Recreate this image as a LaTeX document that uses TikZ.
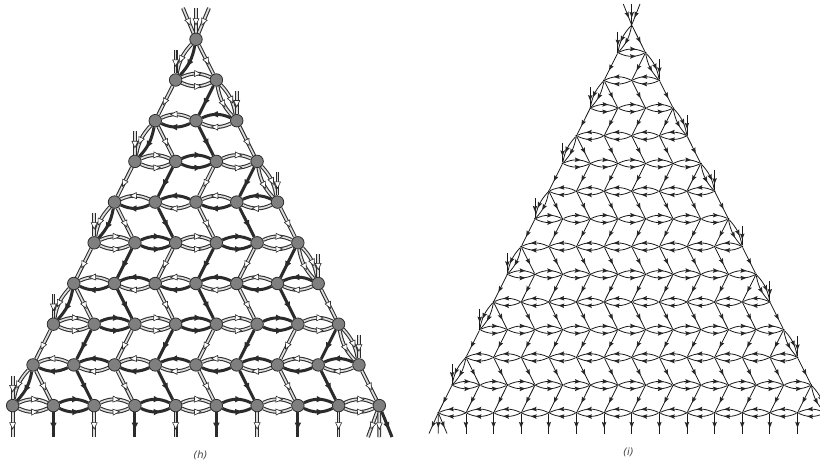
\documentclass[tikz,border=0pt]{standalone}
\usepackage{fontspec}
\setmainfont{DejaVu Sans}
\usetikzlibrary{decorations.markings,backgrounds}
\definecolor{edgeDk}{HTML}{2B2B2B}
\definecolor{edgeLt}{HTML}{DDDDDD}
\definecolor{nodeGr}{HTML}{7F7F7F}
\definecolor{capGr}{HTML}{444444}
\tikzset{
  x=1pt,y=1pt,
  markLit/.style={postaction={decorate,decoration={markings,mark=at position .55 with {\path[draw=edgeDk,fill=white,line width=.6pt] (3.4,0)--(-3,3)--(-3,-3)--cycle;}}}},
  markDark/.style={postaction={decorate,decoration={markings,mark=at position .55 with {\path[fill=edgeDk] (3.4,0)--(-3,3.2)--(-3,-3.2)--cycle;}}}},
  markThin/.style={postaction={decorate,decoration={markings,mark=at position .55 with {\path[fill=black!85] (3,0)--(-3,2.3)--(-2,0)--(-3,-2.3)--cycle;}}}},
  lkind0/.style={draw=edgeLt,line width=1.7pt,preaction={draw=edgeDk,line width=3.8pt},markLit},
  lkind1/.style={draw=edgeDk,line width=3pt,markDark},
  dkind0/.style={draw=black!90,line width=.8pt,markThin},
  dkind1/.style={draw=black!90,line width=.8pt,markThin},
  lnode/.style={circle,draw=edgeDk,fill=nodeGr,line width=.8pt,inner sep=0pt,minimum size=12.5pt},
  dnode/.style={circle,fill=black,inner sep=0pt,minimum size=2pt},
  capt/.style={text=capGr,inner sep=0pt,font=\fontsize{10}{12}\selectfont\itshape}
}
% #1 prefix, #2 last row, #3 length of the side stubs
\newcommand\latticeEdges[3]{%
  \foreach \r in {0,...,#2}{%
    \pgfmathtruncatemacro\rp{\r-1}%
    \pgfmathtruncatemacro\rn{\r+1}%
    \ifnum\r>0
      \foreach \i in {0,...,\rp}{%
        \pgfmathtruncatemacro\ii{\i+1}%
        \pgfmathtruncatemacro\ka{mod(\i,2)}%
        \pgfmathtruncatemacro\kb{mod(\i+1,2)}%
        \ifodd\r
          \draw[#1kind\ka] (#1-\r-\i) to[bend left=25] (#1-\r-\ii);
          \draw[#1kind\ka] (#1-\r-\i) to[bend right=25] (#1-\r-\ii);
        \else
          \draw[#1kind\ka] (#1-\r-\ii) to[bend right=25] (#1-\r-\i);
          \draw[#1kind\kb] (#1-\r-\ii) to[bend left=25] (#1-\r-\i);
        \fi
      }%
    \fi
    \ifnum\r<#2
      \foreach \i in {0,...,\r}{%
        \pgfmathtruncatemacro\ii{\i+1}%
        \pgfmathtruncatemacro\ka{mod(\i,2)}%
        \ifodd\r
          \draw[#1kind\ka] (#1-\r-\i) -- (#1-\rn-\i);
        \else
          \draw[#1kind\ka] (#1-\r-\i) -- (#1-\rn-\ii);
        \fi
      }%
      \ifodd\r
        \draw[#1kind0] (#1-\r-\r) to[bend left=16] (#1-\rn-\rn);
        \draw[#1kind0] (#1-\r-\r) to[bend right=16] (#1-\rn-\rn);
      \else
        \draw[#1kind0] (#1-\r-0) to[bend right=16] (#1-\rn-0);
        \draw[#1kind1] (#1-\r-0) to[bend left=16] (#1-\rn-0);
      \fi
    \fi
    \ifnum\r>0
      \ifodd\r
        \coordinate (#1s-\r) at ([yshift=#3]#1-\r-0.center);
        \draw[#1kind0] (#1s-\r) -- (#1-\r-0);
      \else
        \coordinate (#1s-\r) at ([yshift=#3]#1-\r-\r.center);
        \draw[#1kind0] (#1s-\r) -- (#1-\r-\r);
      \fi
    \fi
  }%
}
\begin{document}
\begin{tikzpicture}
\useasboundingbox (0,-466) rectangle (820,0);
% --- figure (h)
\foreach \r in {0,...,9}{\foreach \i in {0,...,\r}{%
  \node[lnode] (l-\r-\i) at ({196+(\i-\r/2)*40.74},{-39.3-40.7*\r}) {};}}
\coordinate (lt-a) at (183,-8);
\coordinate (lt-b) at (196,-8);
\coordinate (lt-c) at (209,-8);
\coordinate (lb-a) at (368,-437);
\coordinate (lb-b) at (379.3,-437);
\coordinate (lb-c) at (392,-437);
\begin{scope}[on background layer]
  \draw[lkind0] (lt-a) -- (l-0-0);
  \draw[lkind0] (lt-b) -- (l-0-0);
  \draw[lkind0] (lt-c) -- (l-0-0);
  \foreach \i in {0,...,8}{%
    \pgfmathtruncatemacro\ka{mod(\i,2)}%
    \coordinate (lbot-\i) at ([yshift=-31pt]l-9-\i.center);
    \draw[lkind\ka] (l-9-\i) -- (lbot-\i);
  }
  \draw[lkind0] (l-9-9) -- (lb-a);
  \draw[lkind0] (l-9-9) -- (lb-b);
  \draw[lkind1] (l-9-9) -- (lb-c);
  \latticeEdges{l}{9}{30pt}
\end{scope}
\node[capt] (caph) at (200.5,-455) {(h)};
% --- figure (i)
\begin{scope}
  \clip (0,-466) rectangle (820,0);
  \foreach \r in {0,...,14}{\foreach \i in {0,...,\r}{%
    \node[dnode] (d-\r-\i) at ({631.7+(\i-\r/2)*27.63},{-25-27.7*\r}) {};}}
  \coordinate (dt-a) at (623.3,-4);
  \coordinate (dt-b) at (631.7,-4);
  \coordinate (dt-c) at (640,-4);
  \coordinate (db-a) at (429,-433.5);
  \coordinate (db-b) at (438.3,-433.5);
  \coordinate (db-c) at (447,-433.5);
  \draw[dkind0] (dt-a) -- (d-0-0);
  \draw[dkind0] (dt-b) -- (d-0-0);
  \draw[dkind0] (dt-c) -- (d-0-0);
  \draw[dkind0] (d-14-0) -- (db-a);
  \draw[dkind0] (d-14-0) -- (db-b);
  \draw[dkind0] (d-14-0) -- (db-c);
  \foreach \i in {1,...,14}{%
    \coordinate (dbot-\i) at ([yshift=-21pt]d-14-\i.center);
    \draw[dkind0] (d-14-\i) -- (dbot-\i);
  }
  \latticeEdges{d}{14}{21pt}
\end{scope}
\node[capt] (capi) at (628.5,-452) {(i)};
\end{tikzpicture}
\end{document}
